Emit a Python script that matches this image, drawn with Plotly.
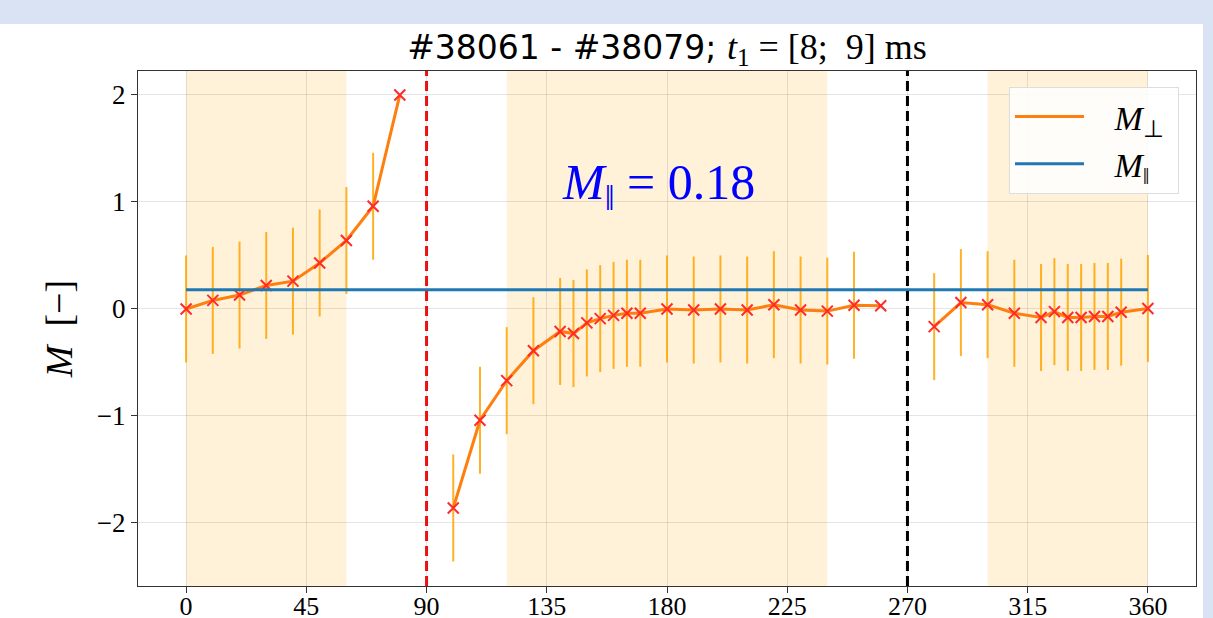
import plotly.graph_objects as go

# ---- data ----
angle = [0, 10, 20, 30, 40, 50, 60, 70, 80, 90,
         100, 110, 120, 130, 140, 145, 150, 155, 160, 165, 170,
         180, 190, 200, 210, 220, 230, 240, 250, 260, 270,
         280, 290, 300, 310, 320, 325, 330, 335, 340, 345, 350, 360]
m_perp = [0.00, 0.08, 0.13, 0.22, 0.26, 0.43, 0.64, 0.96, 2.00, None,
          -1.86, -1.04, -0.67, -0.39, -0.21, -0.23, -0.13, -0.09, -0.06, -0.04, -0.04,
          0.00, -0.01, 0.00, -0.01, 0.04, -0.01, -0.02, 0.035, 0.03, None,
          -0.165, 0.06, 0.04, -0.04, -0.08, -0.025, -0.08, -0.08, -0.07, -0.07, -0.03, 0.005]
m_perp_err = [0.5, 0.5, 0.5, 0.5, 0.5, 0.5, 0.5, 0.5, None, None,
              0.5, 0.5, 0.5, 0.5, 0.5, 0.5, 0.5, 0.5, 0.5, 0.5, 0.5,
              0.5, 0.5, 0.5, 0.5, 0.5, 0.5, 0.5, 0.5, None, None,
              0.5, 0.5, 0.5, 0.5, 0.5, 0.5, 0.5, 0.5, 0.5, 0.5, 0.5, 0.5]
m_par = 0.18
par_x = [0, 360]
par_y = [m_par, m_par]
shaded_spans = [(0, 60), (120, 240), (300, 360)]
red_line_x = 90
black_line_x = 270
x_ticks = [0, 45, 90, 135, 180, 225, 270, 315, 360]
y_ticks = [-2, -1, 0, 1, 2]

SERIF = "Liberation Serif"
SANS = "DejaVu Sans"

fig = go.Figure()

# error bars (drawn first, below the line)
fig.add_trace(go.Scatter(
    x=angle, y=m_perp, mode="markers",
    marker=dict(size=1, opacity=0),
    error_y=dict(type="data", array=m_perp_err, visible=True,
                 color="rgba(255,165,0,0.85)", thickness=2, width=0),
    showlegend=False, hoverinfo="skip"))

# main line
fig.add_trace(go.Scatter(
    x=angle, y=m_perp, mode="lines",
    line=dict(color="#ff7f0e", width=3),
    name="&nbsp;&nbsp;&nbsp;<i>M</i><sub>⊥</sub>&nbsp;"))

# markers
fig.add_trace(go.Scatter(
    x=angle, y=m_perp, mode="markers",
    marker=dict(symbol="x-thin", size=11, line=dict(color="#ff2a2a", width=2)),
    showlegend=False))

# parallel Mach number line
fig.add_trace(go.Scatter(
    x=par_x, y=par_y, mode="lines",
    line=dict(color="#1f77b4", width=3),
    name="&nbsp;&nbsp;&nbsp;<i>M</i><sub>‖</sub>&nbsp;"))

shapes = []
# white card on blue page background
shapes.append(dict(type="rect", xref="paper", yref="paper",
                   x0=(0 - 138) / 1058, x1=(1203 - 138) / 1058,
                   y0=-0.2, y1=(586 - 24) / 515,
                   fillcolor="white", line=dict(width=0), layer="below"))
for a, b in shaded_spans:
    shapes.append(dict(type="rect", xref="x", yref="paper", x0=a, x1=b, y0=0, y1=1,
                       fillcolor="rgba(255,165,0,0.15)", line=dict(width=0), layer="below"))
shapes.append(dict(type="line", xref="x", yref="paper", x0=red_line_x, x1=red_line_x,
                   y0=0, y1=1, line=dict(color="#ee1111", width=3, dash="10px,5px"),
                   layer="above"))
shapes.append(dict(type="line", xref="x", yref="paper", x0=black_line_x, x1=black_line_x,
                   y0=0, y1=1, line=dict(color="black", width=3, dash="10px,5px"),
                   layer="above"))

fig.update_layout(
    width=1213, height=618,
    margin=dict(l=138, r=17, t=71, b=32),
    paper_bgcolor="#dae3f3",
    plot_bgcolor="white",
    shapes=shapes,
    title=dict(
        text=("#38061 - #38079; <span style='font-family:" + SERIF + ";font-size:36px'>"
              "<i>t</i><sub>1</sub> = [8;&nbsp;&nbsp;9] ms</span>"),
        font=dict(family=SANS, size=33, color="black"),
        x=0.5, xref="paper", xanchor="center",
        y=1 - 47 / 618, yref="container", yanchor="middle"),
    xaxis=dict(range=[-18, 378], tickvals=x_ticks, ticktext=[str(t) for t in x_ticks],
               automargin=False, ticklabelstandoff=-9,
               showgrid=True, gridcolor="rgba(0,0,0,0.1)", gridwidth=1,
               zeroline=False, showline=True, mirror=True, linecolor="#333", linewidth=1,
               ticks="outside", ticklen=6, tickcolor="#333",
               tickfont=dict(family=SERIF, size=26, color="black")),
    yaxis=dict(range=[-2.589, 2.224], tickvals=y_ticks, automargin=False,
               showgrid=True, gridcolor="rgba(0,0,0,0.1)", gridwidth=1,
               zeroline=False, showline=True, mirror=True, linecolor="#333", linewidth=1,
               ticks="outside", ticklen=6, tickcolor="#333",
               tickfont=dict(family=SERIF, size=27, color="black"),
               title=dict(text="<i>M</i>  [−]", font=dict(family=SERIF, size=38, color="black"),
                          standoff=12)),
    legend=dict(x=(1179 - 138) / 1058, xanchor="right", y=(586 - 87) / 515, yanchor="top",
                bgcolor="rgba(255,255,255,0.85)", bordercolor="#dddddd", borderwidth=1,
                font=dict(family=SERIF, size=34, color="black"), itemwidth=69),
    annotations=[dict(x=140, y=1.15, xref="x", yref="y", xanchor="left", yanchor="middle",
                      text="<i>M</i><sub>‖</sub> = 0.18", showarrow=False,
                      font=dict(family=SERIF, size=50, color="blue"))],
)

fig.write_html("out.html")
